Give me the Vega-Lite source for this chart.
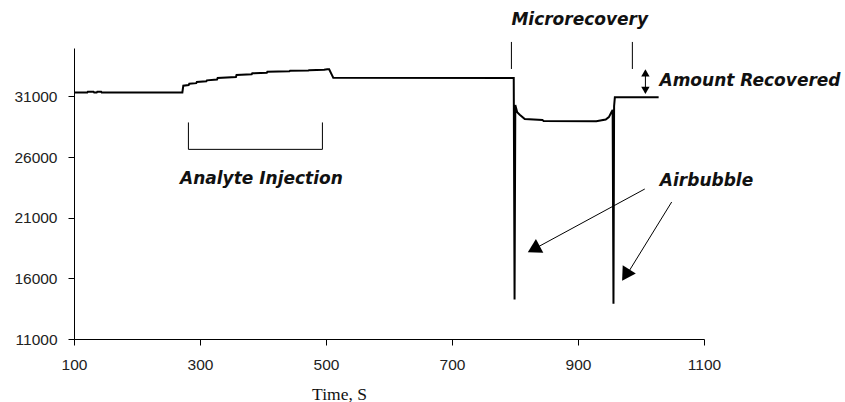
{
  "$schema": "https://vega.github.io/schema/vega-lite/v6.json",
  "width": 630,
  "height": 291,
  "autosize": "none",
  "padding": {"left": 74, "top": 48, "right": 141, "bottom": 63},
  "background": "white",
  "config": {"view": {"stroke": null}},
  "datasets": {
    "signal": [
      {"t": 100, "v": 31320}, {"t": 121, "v": 31320}, {"t": 122, "v": 31400}, {"t": 131, "v": 31400},
      {"t": 132, "v": 31330}, {"t": 136, "v": 31330}, {"t": 137, "v": 31400}, {"t": 143, "v": 31400},
      {"t": 144, "v": 31320}, {"t": 272, "v": 31330}, {"t": 273.5, "v": 31890}, {"t": 282, "v": 31950},
      {"t": 283, "v": 32050}, {"t": 294, "v": 32100}, {"t": 295, "v": 32200}, {"t": 310, "v": 32250},
      {"t": 311, "v": 32330}, {"t": 327, "v": 32400}, {"t": 328, "v": 32520}, {"t": 357, "v": 32600},
      {"t": 358, "v": 32780}, {"t": 382, "v": 32830}, {"t": 383, "v": 32910}, {"t": 406, "v": 32960},
      {"t": 407, "v": 33050}, {"t": 442, "v": 33080}, {"t": 443, "v": 33120}, {"t": 472, "v": 33140},
      {"t": 473, "v": 33170}, {"t": 497, "v": 33200}, {"t": 502, "v": 33240}, {"t": 505, "v": 33240},
      {"t": 509.5, "v": 32760}, {"t": 511.5, "v": 32550}, {"t": 798, "v": 32530}, {"t": 799.3, "v": 14250},
      {"t": 800.5, "v": 30300}, {"t": 801.5, "v": 30100}, {"t": 803.5, "v": 29700}, {"t": 807.5, "v": 29500},
      {"t": 815.5, "v": 29140}, {"t": 843.5, "v": 29060}, {"t": 845.5, "v": 28980}, {"t": 929, "v": 28960},
      {"t": 944, "v": 29100}, {"t": 949, "v": 29300}, {"t": 953, "v": 29700}, {"t": 955, "v": 29900},
      {"t": 956.3, "v": 13900}, {"t": 957.3, "v": 30200}, {"t": 958.5, "v": 30930}, {"t": 1028, "v": 30930}
    ],
    "rules": [
      {"t": 281.6, "v": 28860, "t2": 281.6, "v2": 26640},
      {"t": 494.3, "v": 28860, "t2": 494.3, "v2": 26640},
      {"t": 281.6, "v": 26640, "t2": 494.3, "v2": 26640},
      {"t": 794.3, "v": 35500, "t2": 794.3, "v2": 33270},
      {"t": 986.3, "v": 35500, "t2": 986.3, "v2": 33270},
      {"t": 1007, "v": 33100, "t2": 1007, "v2": 31300},
      {"t": 1006, "v": 23370, "t2": 836, "v2": 18580},
      {"t": 1048.7, "v": 22300, "t2": 982.1, "v2": 16690}
    ],
    "smallheads": [
      {"t": 1007, "v": 32950, "angle": 0},
      {"t": 1007, "v": 31500, "angle": 180}
    ],
    "bigheads": [
      {"t": 829.7, "v": 18420, "angle": 241.6},
      {"t": 975.7, "v": 16270, "angle": 212.2}
    ],
    "labels": [
      {"t": 902.7, "v": 37270, "text": "Microrecovery"},
      {"t": 1173, "v": 32250, "text": "Amount  Recovered"},
      {"t": 397.5, "v": 24220, "text": "Analyte  Injection"},
      {"t": 1104, "v": 24070, "text": "Airbubble"}
    ]
  },
  "encoding": {
    "x": {
      "field": "t", "type": "quantitative",
      "scale": {"domain": [100, 1100], "nice": false, "zero": false},
      "axis": {
        "values": [100, 300, 500, 700, 900, 1100], "format": "d", "grid": false,
        "labelFlush": false, "labelOverlap": false,
        "domainColor": "black", "tickColor": "black", "tickSize": 6,
        "labelFont": "Liberation Sans", "labelFontSize": 15.5, "labelColor": "#222", "labelPadding": 12.5,
        "title": "Time, S", "titleFont": "Liberation Serif", "titleFontSize": 17.5, "titleFontWeight": "normal",
        "titleColor": "#111", "titleX": 265, "titleY": 60, "titleAlign": "center", "titleBaseline": "alphabetic"
      }
    },
    "y": {
      "field": "v", "type": "quantitative",
      "scale": {"domain": [11000, 35000], "nice": false, "zero": false},
      "axis": {
        "values": [11000, 16000, 21000, 26000, 31000], "format": "d", "grid": false,
        "labelOverlap": false,
        "domainColor": "black", "tickColor": "black", "tickSize": 6,
        "labelFont": "Liberation Sans", "labelFontSize": 15.5, "labelColor": "#222", "labelPadding": 11,
        "title": null
      }
    }
  },
  "layer": [
    {
      "data": {"name": "signal"},
      "mark": {"type": "line", "color": "black", "strokeWidth": 2, "interpolate": "linear"}
    },
    {
      "data": {"name": "rules"},
      "mark": {"type": "rule", "color": "black", "strokeWidth": 1},
      "encoding": {
        "x2": {"field": "t2"},
        "y2": {"field": "v2"}
      }
    },
    {
      "data": {"name": "smallheads"},
      "mark": {"type": "point", "shape": "triangle-up", "filled": true, "color": "black", "opacity": 1, "size": 70},
      "encoding": {"angle": {"field": "angle", "type": "quantitative", "scale": null}}
    },
    {
      "data": {"name": "bigheads"},
      "mark": {"type": "point", "shape": "triangle-up", "filled": true, "color": "black", "opacity": 1, "size": 240},
      "encoding": {"angle": {"field": "angle", "type": "quantitative", "scale": null}}
    },
    {
      "data": {"name": "labels"},
      "mark": {"type": "text", "font": "DejaVu Sans", "fontSize": 17, "fontWeight": "bold", "fontStyle": "italic", "color": "#111", "align": "center", "baseline": "middle"},
      "encoding": {"text": {"field": "text"}}
    }
  ]
}
